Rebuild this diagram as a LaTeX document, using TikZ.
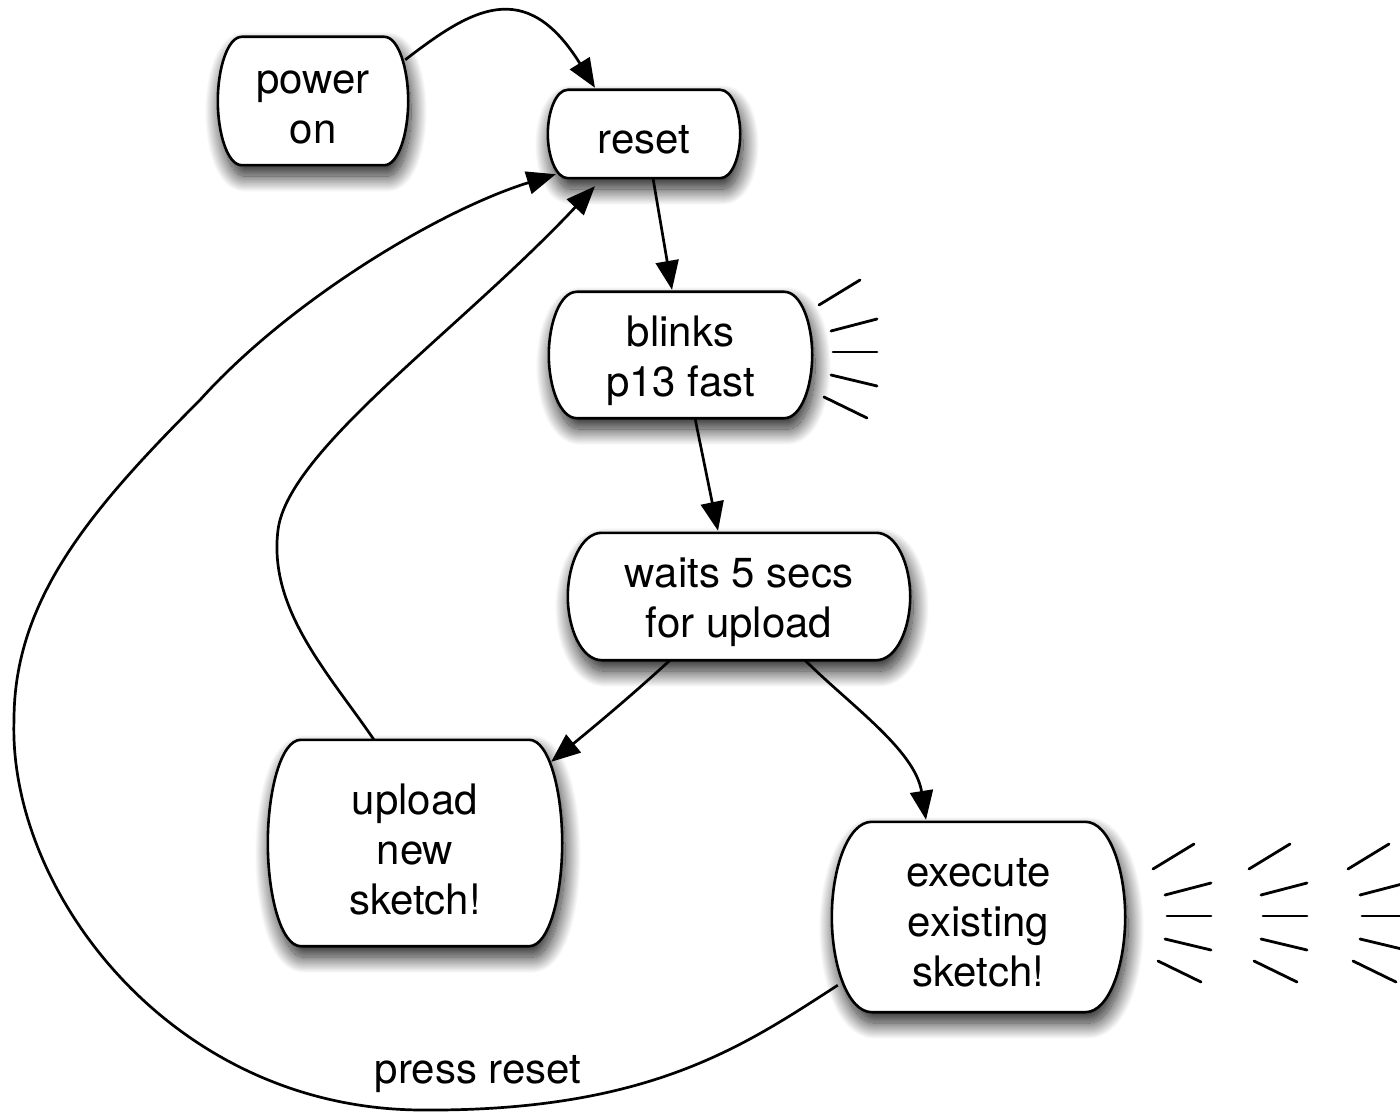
\documentclass[tikz,border=0pt]{standalone}
\usepackage{fontspec}
\setmainfont{TeX Gyre Heros}
\usetikzlibrary{arrows.meta,backgrounds,shadows.blur}

% Outline of a state: straight top and bottom, bulging sides.
% #1 node name, #2 inset of the straight edges, #3 control offset of the side arcs
\newcommand\bubblepath[3]{%
  ([xshift=#2]#1.north west) -- ([xshift=-#2]#1.north east)
  .. controls ([xshift=-0.4*#2]#1.north east) and ([yshift=#3]#1.east) .. (#1.east)
  .. controls ([yshift=-#3]#1.east) and ([xshift=-0.4*#2]#1.south east) .. ([xshift=-#2]#1.south east)
  -- ([xshift=#2]#1.south west)
  .. controls ([xshift=0.4*#2]#1.south west) and ([yshift=-#3]#1.west) .. (#1.west)
  .. controls ([yshift=#3]#1.west) and ([xshift=0.4*#2]#1.north west) .. ([xshift=#2]#1.north west)
  -- cycle}

\tikzset{
  txt/.style={font=\fontsize{42}{50}\selectfont, align=center, inner sep=0pt},
  state/.style={inner sep=0pt, minimum width=#1},
  caption/.style={label={[txt, yshift=-6pt]center:#1}},
  bubble/.style={fill=white, draw=black, line width=2.6pt,
    blur shadow={shadow xshift=3pt, shadow yshift=-11pt,
                 shadow blur radius=16pt, shadow blur steps=28,
                 shadow opacity=90}},
  conn/.style={line width=2.7pt, -{Triangle[length=29pt,width=23pt]}},
  ray/.style={line width=2.8pt, line cap=round},
  glow/.pic={
    \draw[ray] (-14,-47) -- (27,-72);
    \draw[ray] (-2,-21) -- (44,-33);
    \draw[ray] (0,0) -- (44,0);
    \draw[ray] (-2,23) -- (44,34);
    \draw[ray] (-9,45) -- (34,66);
  }
}

\begin{document}
\begin{tikzpicture}[x=1pt,y=-1pt]
\useasboundingbox (0,0) rectangle (1400,1115);

% states
\node[state=190pt, minimum height=128pt, caption={power\\on}] (pwr) at (313,101) {};
\node[state=192pt, minimum height=88pt,  caption={reset}] (rst) at (644,134) {};
\node[state=263pt, minimum height=126pt, caption={blinks\\p13 fast}] (blk) at (680.5,355) {};
\node[state=342pt, minimum height=127pt, caption={waits 5 secs\\for upload}] (wts) at (739,596.5) {};
\node[state=294pt, minimum height=206pt, caption={upload\\new\\sketch!}] (upl) at (415,843) {};
\node[state=293pt, minimum height=190pt, caption={execute\\existing\\sketch!}] (exe) at (978.5,917) {};

\begin{scope}[on background layer]
  \foreach \n/\d/\v in {pwr/24/32, rst/20/22, blk/28/32, wts/34/32, upl/33/52, exe/40/48}
    \path[bubble] \bubblepath{\n}{\d}{\v};
\end{scope}

% blinking LED marks
\pic at (833,352) {glow};
\pic at (1167,916) {glow};
\pic at (1263,916) {glow};
\pic at (1362,916) {glow};

% transitions
\draw[conn] ([xshift=-3pt,yshift=-23pt]pwr.north east)
  .. controls (470,10) and (525,-25) .. ([xshift=-49pt,yshift=2pt]rst.north);
\draw[conn] ([xshift=9pt]rst.south) -- ([xshift=-8.5pt,yshift=2pt]blk.north);
\draw[conn] ([xshift=14.5pt]blk.south) -- ([xshift=-21pt,yshift=2pt]wts.north);
\draw[conn] ([xshift=-69pt]wts.south)
  .. controls (630,697) and (590,730) .. ([xshift=-11pt,yshift=-22pt]upl.north east);
\draw[conn] ([xshift=66pt]wts.south)
  .. controls (850,705) and (915,750) .. ([xshift=-52.5pt,yshift=2pt]exe.north);
\draw[conn] ([xshift=-41pt]upl.north)
  .. controls (330,675) and (268,610) .. (278,530)
  .. controls (288,450) and (460,330) .. ([xshift=-49pt,yshift=-8pt]rst.south);
\draw[conn] ([xshift=6pt,yshift=27pt]exe.south west)
  .. controls (745,1045) and (650,1112) .. (420,1110)
  .. controls (170,1108) and (8,890) .. (14,720)
  .. controls (14,600) and (90,510) .. (200,400)
  .. controls (290,300) and (440,210) .. ([xshift=8pt,yshift=4pt]rst.south west);
\node[txt] (press) at (478,1074) {press reset};
\end{tikzpicture}
\end{document}
